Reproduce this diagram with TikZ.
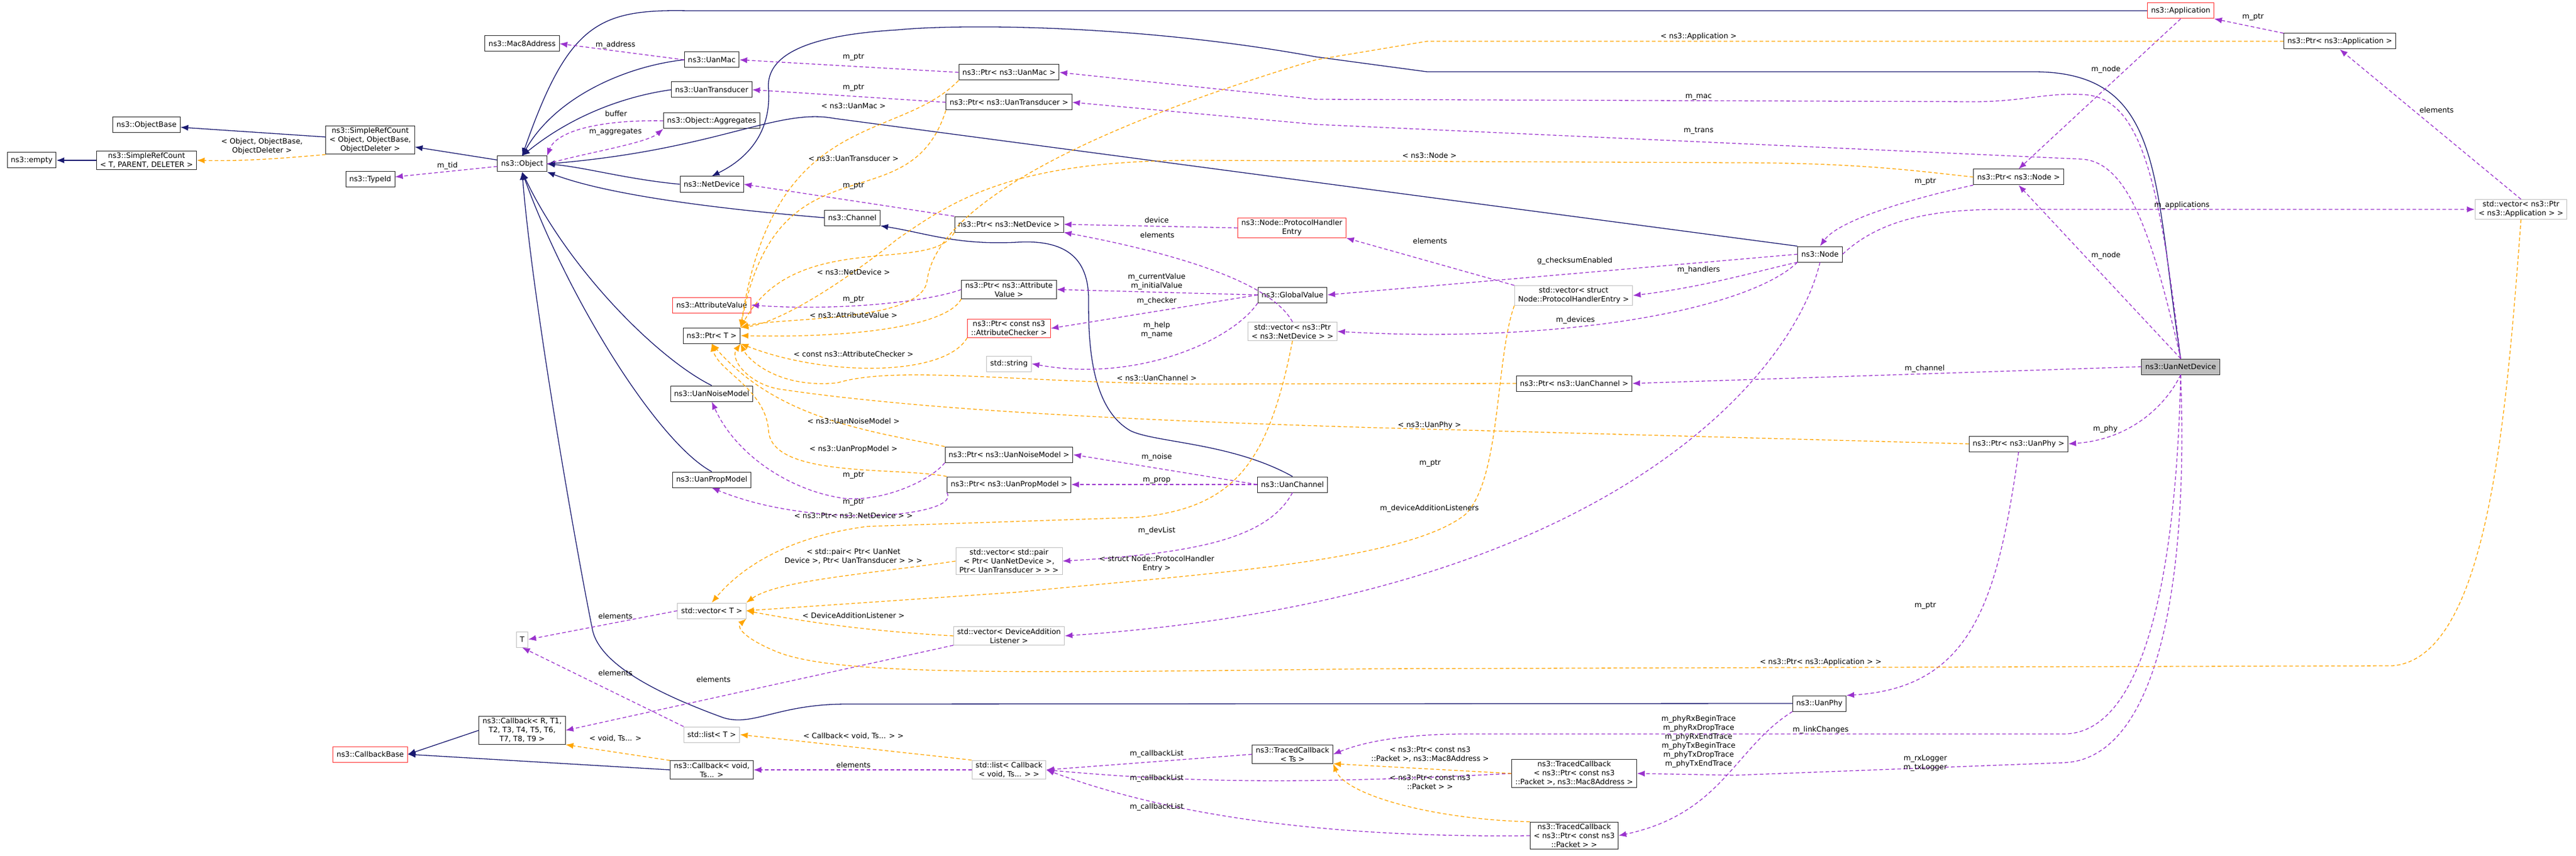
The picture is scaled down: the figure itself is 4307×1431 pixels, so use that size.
\documentclass[tikz,border=0pt]{standalone}
\usepackage{fontspec}
\setmainfont{DejaVu Sans}
\usetikzlibrary{arrows.meta}
\definecolor{navy}{HTML}{191970}
\definecolor{purp}{HTML}{9A32CD}
\definecolor{oran}{HTML}{FFA500}
\definecolor{redb}{HTML}{FF3030}
\definecolor{grayb}{HTML}{BFBFBF}
\tikzset{
 box/.style={draw=black!85,line width=1pt,fill=white,align=center,inner xsep=6pt,inner ysep=3pt,minimum height=26pt,font=\fontsize{12.3}{15}\selectfont},
 rbox/.style={box,draw=redb},
 gbox/.style={box,draw=grayb},
 lab/.style={font=\fontsize{12.3}{15}\selectfont,align=center,inner sep=1pt},
 nav/.style={draw=navy,line width=1.3pt,-{Latex[length=13pt,width=10pt]}},
 pur/.style={draw=purp,line width=1.3pt,dash pattern=on 6pt off 4pt,-{Latex[length=13pt,width=10pt]}},
 ora/.style={draw=oran,line width=1.3pt,dash pattern=on 6pt off 4pt,-{Latex[length=13pt,width=10pt]}},
}
\begin{document}
\begin{tikzpicture}[x=1pt,y=-1pt]
\useasboundingbox (0,0) rectangle (4307,1431);
% nodes
\node[box] (empty) at (53,268) {ns3::empty};
\node[box] (src2) at (245,268) {ns3::SimpleRefCount\\< T, PARENT, DELETER >};
\node[box] (objbase) at (245,209) {ns3::ObjectBase};
\node[box] (srcobj) at (619,234) {ns3::SimpleRefCount\\< Object, ObjectBase,\\ ObjectDeleter >};
\node[box] (typeid) at (619,300) {ns3::TypeId};
\node[box] (object) at (873,274) {ns3::Object};
\node[box] (mac8) at (873,73) {ns3::Mac8Address};
\node[box] (uanmac) at (1190,100) {ns3::UanMac};
\node[box] (uantrans) at (1190,150) {ns3::UanTransducer};
\node[box] (aggr) at (1190,202) {ns3::Object::Aggregates};
\node[box] (netdevice) at (1190,308) {ns3::NetDevice};
\node[box] (channel) at (1425,364) {ns3::Channel};
\node[box] (pmac) at (1687,121) {ns3::Ptr< ns3::UanMac >};
\node[box] (ptrans) at (1687,171) {ns3::Ptr< ns3::UanTransducer >};
\node[box] (pnetdev) at (1687,375) {ns3::Ptr< ns3::NetDevice >};
\node[rbox] (phe) at (2160,381) {ns3::Node::ProtocolHandler\\Entry};
\node[box] (pattr) at (1687,484) {ns3::Ptr< ns3::Attribute\\Value >};
\node[box] (global) at (2161,493) {ns3::GlobalValue};
\node[rbox] (attrval) at (1190,510) {ns3::AttributeValue};
\node[box] (ptrT) at (1190,561) {ns3::Ptr< T >};
\node[rbox] (pcheck) at (1687,549) {ns3::Ptr< const ns3\\::AttributeChecker >};
\node[gbox] (string) at (1687,608) {std::string};
\node[box] (noise) at (1190,658) {ns3::UanNoiseModel};
\node[box] (prop) at (1190,802) {ns3::UanPropModel};
\node[box] (pnoise) at (1687,760) {ns3::Ptr< ns3::UanNoiseModel >};
\node[box] (pprop) at (1687,810) {ns3::Ptr< ns3::UanPropModel >};
\node[box] (uanchan) at (2161,810) {ns3::UanChannel};
\node[gbox] (vecnd) at (2161,554) {std::vector< ns3::Ptr\\< ns3::NetDevice > >};
\node[gbox] (vecpair) at (1687,938) {std::vector< std::pair\\< Ptr< UanNetDevice >,\\ Ptr< UanTransducer > > >};
\node[box] (node) at (3043,425) {ns3::Node};
\node[gbox] (vecphe) at (2631,494) {std::vector< struct\\ Node::ProtocolHandlerEntry >};
\node[rbox] (app) at (3646,18) {ns3::Application};
\node[box] (papp) at (3912,69) {ns3::Ptr< ns3::Application >};
\node[box] (pnode) at (3375,296) {ns3::Ptr< ns3::Node >};
\node[gbox] (vecapp) at (4215,350) {std::vector< ns3::Ptr\\< ns3::Application > >};
\node[box] (pchan) at (2632,641) {ns3::Ptr< ns3::UanChannel >};
\node[box,fill=grayb] (und) at (3646,613) {ns3::UanNetDevice};
\node[box] (pphy) at (3375,742) {ns3::Ptr< ns3::UanPhy >};
\node[gbox] (vect) at (1190,1021) {std::vector< T >};
\node[gbox] (T) at (873,1069) {T};
\node[gbox] (vecdal) at (1687,1063) {std::vector< DeviceAddition\\Listener >};
\node[box] (cbR) at (873,1221) {ns3::Callback< R, T1,\\ T2, T3, T4, T5, T6,\\ T7, T8, T9 >};
\node[rbox] (cbbase) at (619,1261) {ns3::CallbackBase};
\node[gbox] (listT) at (1190,1228) {std::list< T >};
\node[box] (cbvoid) at (1190,1287) {ns3::Callback< void,\\ Ts... >};
\node[gbox] (list) at (1687,1287) {std::list< Callback\\< void, Ts... > >};
\node[box] (tcts) at (2161,1261) {ns3::TracedCallback\\< Ts >};
\node[box] (uanphy) at (3042,1176) {ns3::UanPhy};
\node[box] (tcpm) at (2632,1293) {ns3::TracedCallback\\< ns3::Ptr< const ns3\\::Packet >, ns3::Mac8Address >};
\node[box] (tcp) at (2632,1397) {ns3::TracedCallback\\< ns3::Ptr< const ns3\\::Packet > >};
% navy inheritance
\draw[nav] (src2) -- (empty);
\draw[nav] (srcobj) -- (objbase);
\draw[nav] (object) -- (srcobj);
\draw[nav] (cbR.west) -- (cbbase.east);
\draw[nav] (cbvoid.west) -- (cbbase.east);
\draw[nav] (uanmac.west) .. controls (1050,110) and (930,160) .. (object.north);
\draw[nav] (uantrans.west) .. controls (1050,160) and (960,190) .. (object.north);
\draw[nav] (netdevice.west) .. controls (1050,300) and (980,280) .. (object.east);
\draw[nav] (channel.west) .. controls (1150,345) and (1000,320) .. (object.south east);
\draw[nav] (app.west) -- (1150,18) .. controls (1000,15) and (950,40) .. (object.north);
\draw[nav] (node.north west) -- (1395,198) .. controls (1300,180) and (1200,250) .. (object.east);
\draw[nav] (noise.north) .. controls (1100,600) and (950,450) .. (object.south);
\draw[nav] (prop.north) .. controls (1100,740) and (950,500) .. (object.south);
\draw[nav] (uanphy.west) -- (1416,1177) .. controls (1300,1177) and (1260,1215) .. (1210,1200) .. controls (1100,1160) and (1000,1110) .. (990,1050) .. controls (960,900) and (890,500) .. (object.south);
\draw[nav] (und.north) .. controls (3600,300) and (3620,120) .. (3400,120) -- (2386,120) -- (2200,95) .. controls (1900,40) and (1600,40) .. (1500,50) .. controls (1330,60) and (1280,100) .. (1285,150) .. controls (1290,230) and (1240,270) .. (netdevice.north);
\draw[nav] (uanchan.north) .. controls (2060,740) and (1930,740) .. (1890,720) .. controls (1820,680) and (1820,560) .. (1820,500) .. controls (1820,430) and (1780,400) .. (1700,405) .. controls (1600,410) and (1550,390) .. (channel.south east);
% purple usage
\draw[pur] (object) -- (typeid);
\draw[pur] (uanmac.west) -- (mac8.east);
\draw[pur] (aggr.west) .. controls (1000,200) and (930,220) .. (object.north east);
\draw[pur] (object.east) .. controls (980,255) and (1080,240) .. (aggr.south west);
\draw[pur] (pmac.west) -- (uanmac.east);
\draw[pur] (ptrans.west) -- (uantrans.east);
\draw[pur] (pnetdev.north west) -- (netdevice.east);
\draw[pur] (phe.west) -- (pnetdev.east);
\draw[pur] (vecnd.north) .. controls (2130,480) and (2000,430) .. (pnetdev.south east);
\draw[pur] (pattr.west) .. controls (1550,505) and (1400,520) .. (attrval.east);
\draw[pur] (global.west) -- (pattr.east);
\draw[pur] (global.west) -- (pcheck.east);
\draw[pur] (global.south west) .. controls (2060,570) and (1900,640) .. (string.east);
\draw[pur] (pnoise.south west) .. controls (1560,800) and (1480,840) .. (1410,833) .. controls (1320,820) and (1230,760) .. (noise.south);
\draw[pur] (pprop.south west) .. controls (1600,850) and (1500,865) .. (1420,862) .. controls (1320,858) and (1250,840) .. (prop.south);
\draw[pur] (uanchan.west) -- (pnoise.east);
\draw[pur] (uanchan.west) -- (pprop.east);
\draw[pur] (uanchan.south) .. controls (2120,900) and (2000,925) .. (vecpair.east);
\draw[pur] (node.west) -- (global.east);
\draw[pur] (node.south west) .. controls (2950,450) and (2850,480) .. (vecphe.east);
\draw[pur] (vecphe.north west) -- (phe.south east);
\draw[pur] (node.south west) .. controls (2920,520) and (2600,575) .. (vecnd.east);
\draw[pur] (node.south) .. controls (3000,620) and (2700,1000) .. (vecdal.east);
\draw[pur] (pnode.south west) .. controls (3250,320) and (3080,360) .. (node.north);
\draw[pur] (node.east) .. controls (3150,360) and (3250,350) .. (3350,350) -- (vecapp.west);
\draw[pur] (app.south) -- (pnode.north);
\draw[pur] (papp.north west) -- (app.south east);
\draw[pur] (vecapp.north) -- (papp.south);
\draw[pur] (und.north) .. controls (3610,300) and (3580,160) .. (3480,158) .. controls (3420,155) and (3380,170) .. (3300,170) -- (2200,166) -- (pmac.east);
\draw[pur] (und.north) .. controls (3600,400) and (3560,270) .. (3480,266) -- (2200,208) -- (ptrans.east);
\draw[pur] (und.north) -- (pnode.south);
\draw[pur] (und.west) -- (pchan.east);
\draw[pur] (und.south) .. controls (3620,680) and (3560,735) .. (pphy.east);
\draw[pur] (und.south) .. controls (3640,900) and (3600,1227) .. (3450,1227) -- (2450,1227) .. controls (2350,1227) and (2280,1240) .. (tcts.east);
\draw[pur] (und.south) .. controls (3660,1000) and (3600,1270) .. (3450,1275) -- (2900,1296) -- (tcpm.east);
\draw[pur] (pphy.south) .. controls (3340,1000) and (3300,1150) .. (uanphy.north east);
\draw[pur] (uanphy.south west) .. controls (2900,1250) and (2880,1360) .. (tcp.east);
\draw[pur] (tcts.west) -- (list.east);
\draw[pur] (tcpm.west) .. controls (2200,1310) and (2000,1310) .. (list.east);
\draw[pur] (tcp.west) .. controls (2300,1400) and (2000,1380) .. (list.east);
\draw[pur] (list.west) -- (cbvoid.east);
\draw[pur] (vect.west) -- (T.east);
\draw[pur] (listT.north west) -- (T.south);
\draw[pur] (vecdal.south west) -- (cbR.east);
% orange template instances
\draw[ora] (srcobj.south west) .. controls (500,262) and (420,270) .. (src2.east);
\draw[ora] (pmac.south west) .. controls (1500,240) and (1295,180) .. (ptrT.north east);
\draw[ora] (ptrans.south west) .. controls (1520,380) and (1300,220) .. (ptrT.north east);
\draw[ora] (pnetdev.south west) .. controls (1560,460) and (1330,380) .. (ptrT.north east);
\draw[ora] (papp.west) -- (2386,69) -- (2200,100) .. controls (1700,250) and (1560,380) .. (1550,470) .. controls (1540,540) and (1300,530) .. (ptrT.north east);
\draw[ora] (pnode.west) .. controls (3200,285) and (3100,272) .. (2900,272) -- (2000,268) .. controls (1700,268) and (1600,330) .. (1500,400) .. controls (1400,480) and (1300,540) .. (ptrT.north east);
\draw[ora] (pattr.south west) .. controls (1580,550) and (1400,565) .. (ptrT.east);
\draw[ora] (pcheck.south west) .. controls (1580,630) and (1380,630) .. (ptrT.south east);
\draw[ora] (pchan.west) -- (2000,642) .. controls (1700,640) and (1500,610) .. (1400,640) .. controls (1300,650) and (1250,600) .. (ptrT.south east);
\draw[ora] (pphy.west) -- (2300,715) .. controls (1800,700) and (1500,680) .. (1300,650) .. controls (1250,640) and (1220,600) .. (ptrT.south east);
\draw[ora] (pnoise.north west) .. controls (1450,720) and (1300,700) .. (ptrT.south);
\draw[ora] (pprop.north west) .. controls (1500,780) and (1290,800) .. (1285,720) .. controls (1280,650) and (1200,620) .. (ptrT.south);
\draw[ora] (vecnd.south) .. controls (2120,780) and (2060,850) .. (1900,865) -- (1450,880) .. controls (1300,900) and (1230,960) .. (vect.north);
\draw[ora] (vecpair.west) .. controls (1450,960) and (1300,970) .. (vect.north east);
\draw[ora] (vecphe.south west) .. controls (2500,600) and (2510,800) .. (2450,860) .. controls (2350,940) and (2000,960) .. (1700,990) -- (vect.east);
\draw[ora] (vecdal.west) .. controls (1450,1055) and (1350,1040) .. (vect.east);
\draw[ora] (vecapp.south) .. controls (4190,700) and (4160,1100) .. (4000,1113) -- (2300,1118) .. controls (1700,1125) and (1400,1130) .. (1300,1090) .. controls (1250,1070) and (1230,1050) .. (vect.south east);
\draw[ora] (cbvoid.north west) -- (cbR.south east);
\draw[ora] (list.north west) -- (listT.east);
\draw[ora] (tcpm.west) -- (tcts.south east);
\draw[ora] (tcp.north west) .. controls (2400,1370) and (2250,1330) .. (tcts.south east);
% labels
\node[lab] at (438,245) {< Object, ObjectBase,\\ObjectDeleter >};
\node[lab] at (748,277) {m\_tid};
\node[lab] at (1030,190) {buffer};
\node[lab] at (1029,221) {m\_aggregates};
\node[lab] at (1029,75) {m\_address};
\node[lab] at (1427,96) {m\_ptr};
\node[lab] at (1427,147) {m\_ptr};
\node[lab] at (1427,177) {< ns3::UanMac >};
\node[lab] at (1427,265) {< ns3::UanTransducer >};
\node[lab] at (1427,311) {m\_ptr};
\node[lab] at (1427,455) {< ns3::NetDevice >};
\node[lab] at (1934,368) {device};
\node[lab] at (1935,393) {elements};
\node[lab] at (1934,471) {m\_currentValue\\m\_initialValue};
\node[lab] at (1427,501) {m\_ptr};
\node[lab] at (1427,527) {< ns3::AttributeValue >};
\node[lab] at (1934,503) {m\_checker};
\node[lab] at (1934,552) {m\_help\\m\_name};
\node[lab] at (1427,592) {< const ns3::AttributeChecker >};
\node[lab] at (1934,632) {< ns3::UanChannel >};
\node[lab] at (1427,704) {< ns3::UanNoiseModel >};
\node[lab] at (1427,751) {< ns3::UanPropModel >};
\node[lab] at (1427,795) {m\_ptr};
\node[lab] at (1934,764) {m\_noise};
\node[lab] at (1934,803) {m\_prop};
\node[lab] at (1427,840) {m\_ptr};
\node[lab] at (1427,862) {< ns3::Ptr< ns3::NetDevice > >};
\node[lab] at (1934,887) {m\_devList};
\node[lab] at (1427,930) {< std::pair< Ptr< UanNet\\Device >, Ptr< UanTransducer > > >};
\node[lab] at (1934,943) {< struct Node::ProtocolHandler\\Entry >};
\node[lab] at (2840,61) {< ns3::Application >};
\node[lab] at (2840,163) {m\_mac};
\node[lab] at (2840,219) {m\_trans};
\node[lab] at (2390,260) {< ns3::Node >};
\node[lab] at (3219,304) {m\_ptr};
\node[lab] at (2391,403) {elements};
\node[lab] at (2633,436) {g\_checksumEnabled};
\node[lab] at (2840,451) {m\_handlers};
\node[lab] at (3767,29) {m\_ptr};
\node[lab] at (3521,116) {m\_node};
\node[lab] at (4074,184) {elements};
\node[lab] at (3648,343) {m\_applications};
\node[lab] at (3521,427) {m\_node};
\node[lab] at (2634,535) {m\_devices};
\node[lab] at (3218,616) {m\_channel};
\node[lab] at (2390,711) {< ns3::UanPhy >};
\node[lab] at (2391,775) {m\_ptr};
\node[lab] at (2390,850) {m\_deviceAdditionListeners};
\node[lab] at (3520,717) {m\_phy};
\node[lab] at (3219,1013) {m\_ptr};
\node[lab] at (3044,1107) {< ns3::Ptr< ns3::Application > >};
\node[lab] at (2840,1240) {m\_phyRxBeginTrace\\m\_phyRxDropTrace\\m\_phyRxEndTrace\\m\_phyTxBeginTrace\\m\_phyTxDropTrace\\m\_phyTxEndTrace};
\node[lab] at (3044,1220) {m\_linkChanges};
\node[lab] at (3219,1276) {m\_rxLogger\\m\_txLogger};
\node[lab] at (2391,1261) {< ns3::Ptr< const ns3\\::Packet >, ns3::Mac8Address >};
\node[lab] at (2391,1308) {< ns3::Ptr< const ns3\\::Packet > >};
\node[lab] at (1029,1030) {elements};
\node[lab] at (1427,1029) {< DeviceAdditionListener >};
\node[lab] at (1029,1125) {elements};
\node[lab] at (1193,1136) {elements};
\node[lab] at (1029,1235) {< void, Ts... >};
\node[lab] at (1427,1231) {< Callback< void, Ts... > >};
\node[lab] at (1427,1279) {elements};
\node[lab] at (1934,1260) {m\_callbackList};
\node[lab] at (1934,1301) {m\_callbackList};
\node[lab] at (1934,1349) {m\_callbackList};
\end{tikzpicture}
\end{document}
